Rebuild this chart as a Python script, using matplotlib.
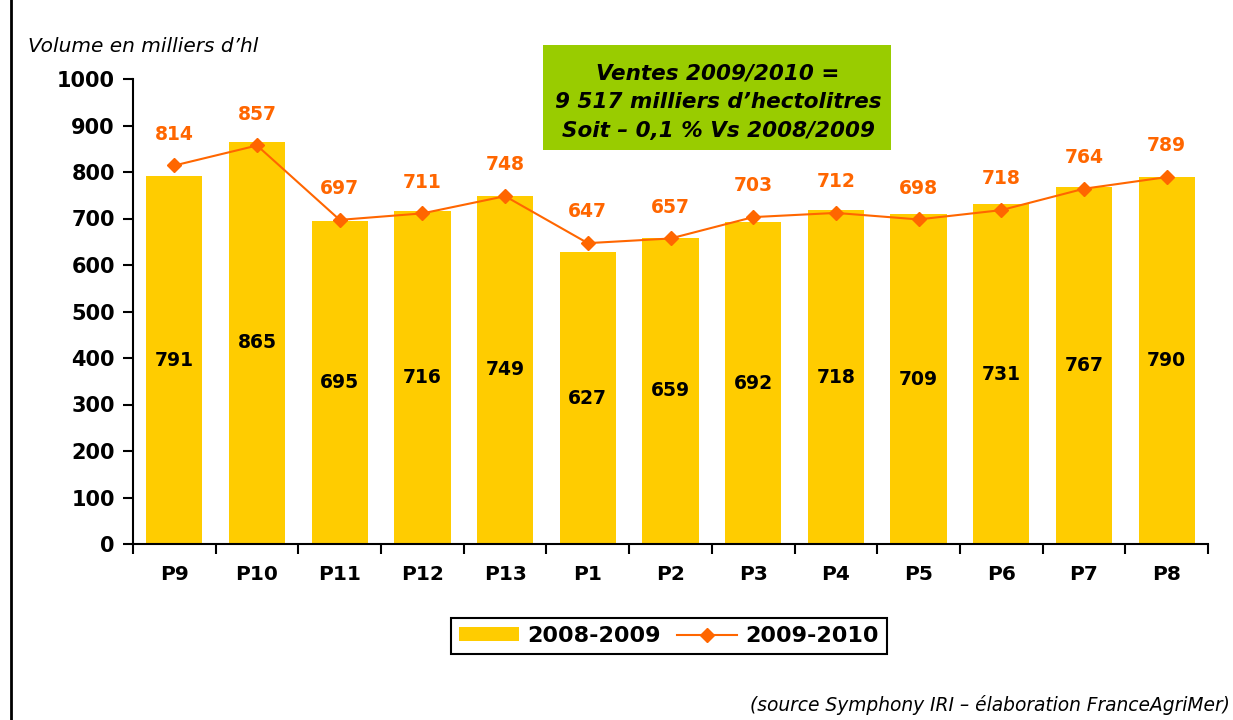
import matplotlib
matplotlib.use("Agg")
import matplotlib.pyplot as plt
from matplotlib.lines import Line2D
from matplotlib.patches import Patch, Rectangle
import numpy as np

plt.rcParams['font.family'] = ['DejaVu Sans']

categories = ["P9", "P10", "P11", "P12", "P13", "P1", "P2", "P3", "P4", "P5", "P6", "P7", "P8"]
vol_2008_2009 = [791, 865, 695, 716, 749, 627, 659, 692, 718, 709, 731, 767, 790]
vol_2009_2010 = [814, 857, 697, 711, 748, 647, 657, 703, 712, 698, 718, 764, 789]

bar_color = "#FFCC00"
line_color = "#FF6600"

fig = plt.figure(figsize=(12.33, 7.2), dpi=100)
ax = fig.add_axes([133/1233, 1-544/720, (1208-133)/1233, (544-79)/720])

x = np.arange(len(categories))
ax.bar(x, vol_2008_2009, width=0.68, color=bar_color, zorder=2)
ax.plot(x, vol_2009_2010, color=line_color, lw=1.5, marker='D', ms=7, zorder=3)

for xi, v in zip(x, vol_2008_2009):
    ax.text(xi, v/2, f"{v}", ha='center', va='center', fontsize=13.5, fontweight='bold', color='black', zorder=4)
for xi, v in zip(x, vol_2009_2010):
    ax.text(xi, v + 47, f"{v}", ha='center', va='bottom', fontsize=13.5, fontweight='bold', color=line_color, zorder=4)

ax.set_xlim(-0.5, len(categories) - 0.5)
ax.set_ylim(0, 1000)
ax.set_yticks(np.arange(0, 1001, 100))
ax.set_yticklabels([str(t) for t in range(0, 1001, 100)], fontsize=15, fontweight='bold')
ax.set_xticks(x)
ax.set_xticklabels(categories, fontsize=14.5, fontweight='bold')
ax.tick_params(axis='x', length=0, pad=15)
ax.set_xticks(np.arange(-0.5, len(categories)), minor=True)
ax.tick_params(axis='x', which='minor', length=7, width=1.5, direction='out')
ax.tick_params(axis='y', length=7, width=1.5, direction='out', pad=6)
for s in ['top', 'right']:
    ax.spines[s].set_visible(False)
for s in ['left', 'bottom']:
    ax.spines[s].set_linewidth(1.5)

fig.text(28/1233, 1-46/720, "Volume en milliers d\u2019hl", fontsize=14.5, fontstyle='italic', ha='left', va='center')

# green annotation box
fig.patches.append(Rectangle((543/1233, 1-150/720), (891-543)/1233, (150-45)/720,
                             transform=fig.transFigure, facecolor="#99CC00", edgecolor='none', zorder=5))
fig.text(718/1233, 1-102/720, "Ventes 2009/2010 =\n9 517 milliers d\u2019hectolitres\nSoit \u2013 0,1 % Vs 2008/2009",
         ha='center', va='center', fontsize=15.5, fontweight='bold', fontstyle='italic', linespacing=1.55, zorder=6)

handles = [Patch(facecolor=bar_color, edgecolor='none'),
           Line2D([0], [0], color=line_color, lw=1.5, marker='D', ms=7)]
leg = fig.legend(handles, ["2008-2009", "2009-2010"], loc='center', bbox_to_anchor=(669/1233, 1-636/720),
                 ncol=2, frameon=True, fancybox=False, framealpha=1, prop={'weight': 'bold', 'size': 16},
                 handlelength=2.7, handleheight=0.6, columnspacing=0.7, handletextpad=0.4, borderpad=0.35,
                 borderaxespad=0)
leg.get_frame().set_edgecolor('black')
leg.get_frame().set_linewidth(1.5)

fig.text(1230/1233, 1-705/720, "(source Symphony IRI \u2013 \u00e9laboration FranceAgriMer)", fontsize=13.4,
         fontstyle='italic', ha='right', va='center')

fig.add_artist(Line2D([11/1233, 11/1233], [0, 1], transform=fig.transFigure, color='black', lw=2))

fig.savefig("out.png", dpi=100)
